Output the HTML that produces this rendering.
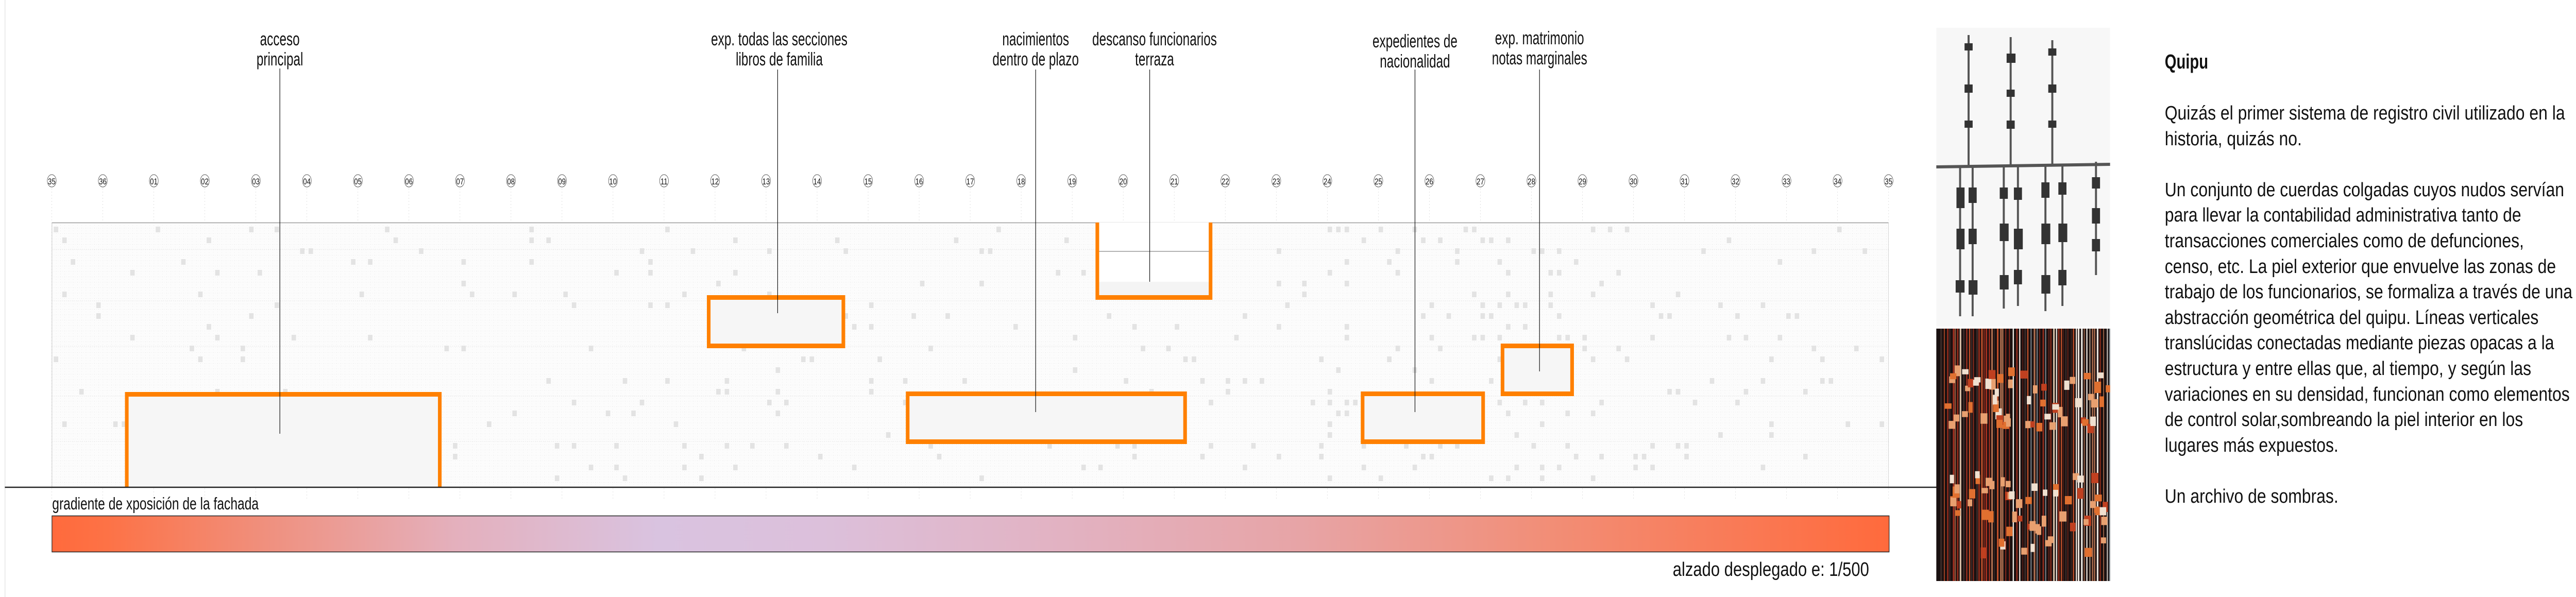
<!DOCTYPE html>
<html><head><meta charset="utf-8">
<style>
html,body{margin:0;padding:0;background:#fff;overflow:hidden;}
#wrap{width:6370px;height:1159px;position:relative;overflow:hidden;font-family:"Liberation Sans",sans-serif;color:#111;transform-origin:0 0;}
.a{position:absolute;}
.lbl{position:absolute;width:600px;margin-left:-300px;font-size:36px;line-height:39px;text-align:center;white-space:nowrap;transform:scaleX(0.86);}
.txt{position:absolute;left:5353px;width:940px;font-size:38px;line-height:49.6px;white-space:nowrap;transform-origin:0 0;transform:scaleX(1.07);}
</style></head><body><div id="wrap">
<div class="a" style="left:12px;top:0;width:1px;height:1159px;background:#cfcfcf"></div>

<svg class="a" style="left:0;top:0" width="4800" height="1159" xmlns="http://www.w3.org/2000/svg">
<defs>
<pattern id="dots" x="128" y="432" width="10.5" height="10.5" patternUnits="userSpaceOnUse">
<rect x="0" y="0" width="1" height="1" fill="#d6d6d6"/><rect x="0" y="5" width="1" height="1" fill="#e4e4e4"/><rect x="5" y="0" width="1" height="1" fill="#e8e8e8"/>
</pattern>
<linearGradient id="gr" x1="0" x2="1" y1="0" y2="0">
<stop offset="0" stop-color="#ff6a3c"/>
<stop offset="0.03" stop-color="#fd7246"/>
<stop offset="0.12" stop-color="#ef9180"/>
<stop offset="0.22" stop-color="#e4b0bd"/>
<stop offset="0.33" stop-color="#d9c3e0"/>
<stop offset="0.42" stop-color="#dcc0db"/>
<stop offset="0.55" stop-color="#e2b2c2"/>
<stop offset="0.68" stop-color="#e7a4a6"/>
<stop offset="0.82" stop-color="#f28d75"/>
<stop offset="1" stop-color="#ff6a3c"/>
</linearGradient>
</defs>
<g id="cols"></g>
<rect x="128" y="432" width="4542" height="514" fill="#fcfcfc"/>
<rect x="128" y="432" width="4542" height="514" fill="url(#dots)"/>
<g stroke="#e2e2e2" stroke-width="1" stroke-dasharray="2 3">
<line x1="128" y1="484" x2="4670" y2="484"/><line x1="128" y1="584" x2="4670" y2="584"/><line x1="128" y1="672" x2="4670" y2="672"/><line x1="128" y1="769" x2="4670" y2="769"/><line x1="128" y1="857" x2="4670" y2="857"/>
</g>
<g id="sq" fill="#e3e3e3"></g>
<line x1="128" y1="432.5" x2="4670" y2="432.5" stroke="#9a9a9a" stroke-width="1.5"/>
<line x1="128.5" y1="432" x2="128.5" y2="946" stroke="#bbb" stroke-width="1"/>
<line x1="4670" y1="432" x2="4670" y2="946" stroke="#ccc" stroke-width="1"/>

<g stroke="#ff8000" stroke-width="9" fill="#f6f6f6">
<path d="M313.5 946 V765.5 H1087.5 V946"/>
<rect x="1752.5" y="577.5" width="333" height="94"/>
<rect x="2244.5" y="764.5" width="686" height="93"/>
<rect x="3369.5" y="764.5" width="298" height="93"/>
<rect x="3715.5" y="671.5" width="172" height="93"/>
</g>
<rect x="2714" y="432" width="280" height="146" fill="#fff"/>
<rect x="2714" y="547" width="280" height="31" fill="#f4f4f4"/>
<line x1="2714" y1="488" x2="2994" y2="488" stroke="#999" stroke-width="1.5"/>
<path d="M2713.5 432 V577.5 H2993.5 V432" stroke="#ff8000" stroke-width="9" fill="none"/>

<g stroke="#111" stroke-width="1.5">
<line x1="692" y1="133" x2="692" y2="842"/>
<line x1="1923" y1="135" x2="1923" y2="608"/>
<line x1="2561" y1="135" x2="2561" y2="800"/>
<line x1="2843" y1="135" x2="2843" y2="547"/>
<line x1="3499" y1="135" x2="3499" y2="800"/>
<line x1="3807" y1="135" x2="3807" y2="721"/>
</g>

<line x1="12" y1="946" x2="4790" y2="946" stroke="#222" stroke-width="2.5"/>
<rect x="128.5" y="1001.5" width="4543" height="70" fill="url(#gr)" stroke="#222" stroke-width="1.5"/>
<g id="circ"></g>
</svg>

<div class="lbl" style="left:692px;top:56px">acceso<br>principal</div>
<div class="lbl" style="left:1927px;top:56px">exp. todas las secciones<br>libros de familia</div>
<div class="lbl" style="left:2561px;top:56px">nacimientos<br>dentro de plazo</div>
<div class="lbl" style="left:2855px;top:56px">descanso funcionarios<br>terraza</div>
<div class="lbl" style="left:3499px;top:60px">expedientes de<br>nacionalidad</div>
<div class="lbl" style="left:3807px;top:54px">exp. matrimonio<br>notas marginales</div>

<div class="a" style="left:129px;top:960px;font-size:33px;line-height:36px;white-space:nowrap;transform-origin:0 0;transform:scaleX(0.95)">gradiente de xposición de la fachada</div>
<div class="a" style="left:3622px;width:1000px;text-align:right;top:1086px;font-size:38px;line-height:40px;white-space:nowrap;transform-origin:100% 0;transform:scaleX(1.04)">alzado desplegado e: 1/500</div>

<svg class="a" style="left:4788px;top:54px" width="430" height="1074" xmlns="http://www.w3.org/2000/svg">
<rect x="0" y="0" width="430" height="580" fill="#f7f7f7"/>
<g stroke="#555" stroke-width="5" fill="none">
<line x1="80" y1="14" x2="80" y2="267"/><line x1="184" y1="18" x2="184" y2="267"/><line x1="287" y1="24" x2="287" y2="267"/>
<line x1="0" y1="270" x2="430" y2="265" stroke-width="6"/>
<line x1="59" y1="267" x2="59" y2="560"/><line x1="90" y1="267" x2="90" y2="560"/>
<line x1="167" y1="267" x2="167" y2="545"/><line x1="202" y1="267" x2="202" y2="540"/>
<line x1="270" y1="267" x2="270" y2="550"/><line x1="312" y1="267" x2="312" y2="540"/>
<line x1="395" y1="260" x2="395" y2="480"/>
</g>
<g fill="#333">
<rect x="70" y="30" width="20" height="14"/><rect x="70" y="110" width="20" height="16"/><rect x="70" y="180" width="20" height="14"/>
<rect x="174" y="50" width="22" height="18"/><rect x="174" y="120" width="20" height="14"/><rect x="174" y="180" width="20" height="16"/>
<rect x="277" y="40" width="20" height="14"/><rect x="277" y="110" width="20" height="16"/><rect x="277" y="180" width="20" height="14"/>
<rect x="50" y="310" width="20" height="40"/><rect x="50" y="390" width="20" height="40"/><rect x="48" y="490" width="22" height="24"/>
<rect x="80" y="310" width="20" height="30"/><rect x="80" y="390" width="20" height="30"/><rect x="80" y="490" width="22" height="28"/>
<rect x="157" y="310" width="20" height="22"/><rect x="157" y="380" width="22" height="34"/><rect x="157" y="480" width="22" height="28"/>
<rect x="192" y="310" width="20" height="24"/><rect x="192" y="390" width="22" height="40"/><rect x="192" y="470" width="20" height="28"/>
<rect x="260" y="300" width="20" height="30"/><rect x="260" y="380" width="22" height="40"/><rect x="260" y="480" width="22" height="36"/>
<rect x="302" y="300" width="20" height="24"/><rect x="302" y="380" width="22" height="36"/><rect x="302" y="470" width="20" height="30"/>
<rect x="385" y="290" width="20" height="22"/><rect x="385" y="350" width="20" height="30"/><rect x="385" y="410" width="20" height="24"/>
</g>
<rect x="0" y="584" width="430" height="490" fill="#1a1010"/>
<g id="strings"></g>
</svg>

<div class="a" style="left:5353px;top:98px;font-size:40px;font-weight:bold;line-height:44px;transform-origin:0 0;transform:scaleX(0.93)">Quipu</div>
<div class="txt" style="top:196px">Quizás el primer sistema de registro civil utilizado en la<br>historia, quizás no.<br><br>Un conjunto de cuerdas colgadas cuyos nudos servían<br>para llevar la contabilidad administrativa tanto de<br>transacciones comerciales como de defunciones,<br>censo, etc. La piel exterior que envuelve las zonas de<br>trabajo de los funcionarios, se formaliza a través de una<br>abstracción geométrica del quipu. Líneas verticales<br>translúcidas conectadas mediante piezas opacas a la<br>estructura y entre ellas que, al tiempo, y según las<br>variaciones en su densidad, funcionan como elementos<br>de control solar,sombreando la piel interior en los<br>lugares más expuestos.<br><br>Un archivo de sombras.</div>
</div>
<script>
(function(){
var NS="http://www.w3.org/2000/svg";
function el(n,a){var e=document.createElementNS(NS,n);for(var k in a)e.setAttribute(k,a[k]);return e;}
var s=12345;function r(){s=(s*1103515245+12345)%2147483648;return s/2147483648;}
var labels=["35","36"];for(var i=1;i<=35;i++)labels.push(i<10?"0"+i:""+i);
var circ=document.getElementById("circ"),cols=document.getElementById("cols");
for(var i=0;i<labels.length;i++){
 var x=128+i*126.17;
 cols.appendChild(el("line",{x1:x,y1:366,x2:x,y2:972,stroke:"#d8d8d8","stroke-width":1,"stroke-dasharray":"2 4"}));
 circ.appendChild(el("ellipse",{cx:x,cy:351,rx:11,ry:12,fill:"#fff",stroke:"#555","stroke-width":1}));
 var t=el("text",{x:x,y:358,"text-anchor":"middle","font-size":"17","font-family":"Liberation Sans, sans-serif",fill:"#111"});
 t.textContent=labels[i];circ.appendChild(t);
}
var sq=document.getElementById("sq");
for(var i=0;i<900;i++){
 var x=128+Math.floor(r()*216)*21+5, y=440+Math.floor(r()*24)*21;
 var d=(x>3250&&x<3950)?0.75:((x>2600&&x<3250)||(x>3950&&x<4650)?0.42:0.33);
 if(r()>d) continue;
 sq.appendChild(el("rect",{x:x,y:y,width:11,height:11}));
}
var st=document.getElementById("strings");
var cs=["#e8e0d8","#8a2a1a","#c0502a","#f0ece6","#5a2018","#b07050","#6e7880","#d8c0a8","#a03020","#3a2a28"];
for(var x=10;x<430;x+=5+Math.floor(r()*5)){
 st.appendChild(el("rect",{x:x,y:584,width:2+Math.floor(r()*3),height:490,fill:cs[Math.floor(r()*cs.length)]}));
}
for(var i=0;i<120;i++){
 var y=(r()<0.5?650+r()*120:860+r()*150);
 st.appendChild(el("rect",{x:10+r()*410,y:y,width:10+r()*8,height:10+r()*12,fill:["#e07030","#f0e0d0","#c04020","#e8a070"][Math.floor(r()*4)]}));
}
var w=window.innerWidth||document.documentElement.clientWidth, h=window.innerHeight||document.documentElement.clientHeight;
if(w>0&&h>0&&(w<6360||w>6380)){
 document.getElementById("wrap").style.transform="scale("+(w/6370)+","+((h>0?h:1159)/1159)+")";
}
})();
</script>
</body></html>
